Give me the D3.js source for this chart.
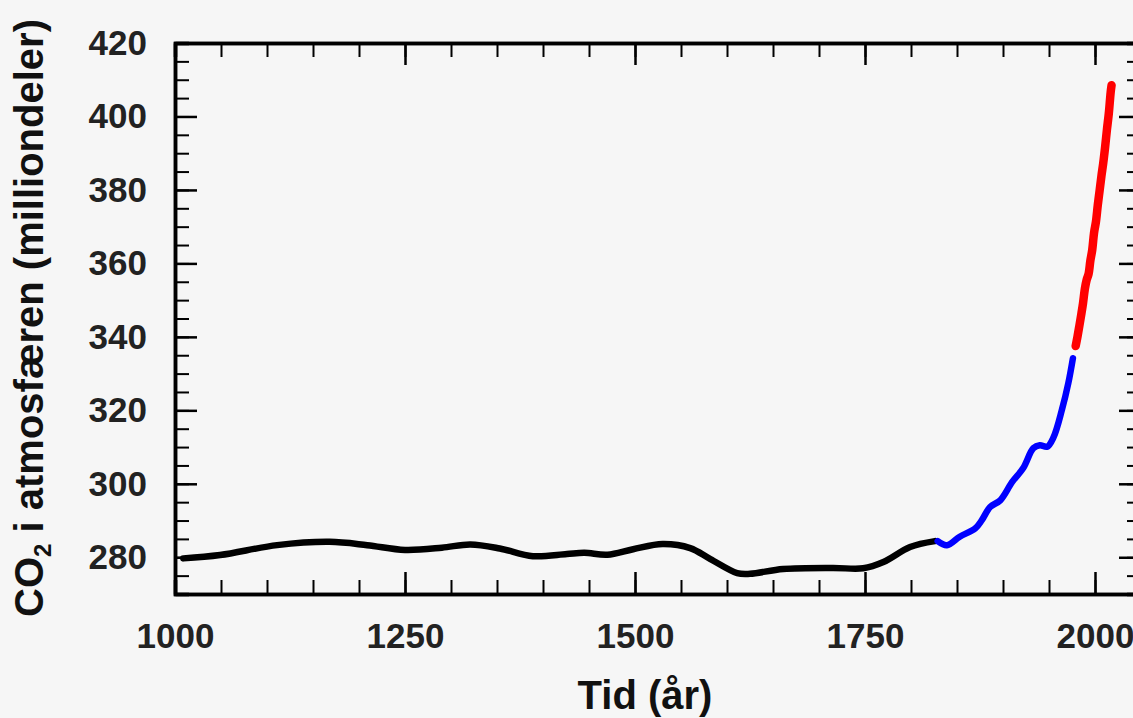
<!DOCTYPE html>
<html>
<head>
<meta charset="utf-8">
<script src="https://cdn.jsdelivr.net/npm/d3@7"></script>
<style>
  html, body { margin: 0; padding: 0; background: #f6f6f6; }
  svg { display: block; font-family: "Liberation Sans", Arial, sans-serif; }
  .tick text { font-size: 35px; font-weight: bold; fill: #222; }
  .domain { stroke: #000; stroke-width: 3.5px; }
  .tick line { stroke: #000; stroke-width: 2px; }
  .major .tick line { stroke-width: 2.5px; }
</style>
</head>
<body>
<svg id="chart" width="1133" height="718"></svg>
<script>
// ice core (black), firn/early record (blue), direct measurements (red)
const iceYears = [1009, 1049, 1111, 1168, 1209, 1250, 1290, 1321, 1353, 1389, 1426, 1445, 1470, 1498, 1530, 1560, 1582, 1611, 1625, 1661, 1715, 1748, 1770, 1799, 1826]
const icePpm   = [279.7, 280.6, 283.3, 284.2, 283.3, 282.0, 282.6, 283.5, 282.4, 280.3, 280.9, 281.2, 280.7, 282.2, 283.6, 282.5, 279.5, 275.7, 275.5, 276.8, 277.1, 277.0, 278.7, 282.8, 284.4]

const firnYears = [1829, 1839, 1853, 1870, 1877, 1886, 1897, 1910, 1922, 1933, 1940, 1948, 1955, 1964, 1971, 1976]
const firnPpm   = [284.4, 283.3, 285.6, 287.9, 290.1, 293.7, 295.5, 300.5, 304.3, 309.7, 310.5, 310.1, 312.7, 320.1, 327.4, 334.2]

const measYears = [1979, 1981, 1983, 1985, 1987, 1989, 1991, 1993, 1995, 1997, 1999, 2001, 2003, 2005, 2007, 2009, 2011, 2013, 2015, 2017, 2018]
const measPpm   = [337.5, 340.1, 343.0, 346.0, 349.2, 353.1, 355.6, 357.1, 360.8, 363.7, 368.4, 371.3, 375.8, 379.8, 383.8, 387.4, 391.7, 396.5, 400.8, 406.5, 408.5]

const xMajor = [1000, 1250, 1500, 1750, 2000]
const yMajor = [280, 300, 320, 340, 360, 380, 400, 420]

const svg = d3.select("#chart")
const pLeft = 175, pRight = 1141, pTop = 43, pBottom = 594

const x = d3.scaleLinear().domain([1000, 2050]).range([pLeft, pRight])
const y = d3.scaleLinear().domain([270, 420]).range([pBottom, pTop])

const xMinor = d3.range(1000, 2051, 50)
const yMinor = d3.range(270, 421, 5)

// minor ticks on all four sides
svg.append("g").attr("transform", `translate(0,${pBottom})`)
    .call(d3.axisBottom(x).tickValues(xMinor).tickSize(-14).tickFormat(""))
svg.append("g").attr("transform", `translate(0,${pTop})`)
    .call(d3.axisTop(x).tickValues(xMinor).tickSize(-14).tickFormat(""))
svg.append("g").attr("transform", `translate(${pLeft},0)`)
    .call(d3.axisLeft(y).tickValues(yMinor).tickSize(-14).tickFormat(""))
svg.append("g").attr("transform", `translate(${pRight},0)`)
    .call(d3.axisRight(y).tickValues(yMinor).tickSize(-14).tickFormat(""))

// major ticks + labels
svg.append("g").attr("class", "major").attr("transform", `translate(0,${pBottom})`)
    .call(d3.axisBottom(x).tickValues(xMajor).tickSize(-22).tickSizeOuter(0).tickPadding(29).tickFormat(d3.format("d")))
svg.append("g").attr("class", "major").attr("transform", `translate(0,${pTop})`)
    .call(d3.axisTop(x).tickValues(xMajor).tickSize(-22).tickSizeOuter(0).tickFormat(""))
svg.append("g").attr("class", "major").attr("transform", `translate(${pLeft},0)`)
    .call(d3.axisLeft(y).tickValues(yMajor).tickSize(-22).tickSizeOuter(0).tickPadding(28).tickFormat(d3.format("d")))
svg.append("g").attr("class", "major").attr("transform", `translate(${pRight},0)`)
    .call(d3.axisRight(y).tickValues(yMajor).tickSize(-22).tickSizeOuter(0).tickFormat(""))

svg.selectAll("g").attr("font-family", null).attr("font-size", null)

const line = d3.line()
    .x(d => x(d[0]))
    .y(d => y(d[1]))
    .curve(d3.curveCatmullRom)

const series = [
    {years: iceYears, ppm: icePpm, color: "#000000", w: 6.5},
    {years: firnYears, ppm: firnPpm, color: "#0000ff", w: 6.5},
    {years: measYears, ppm: measPpm, color: "#ff0000", w: 8.5}
]

series.forEach(s => {
    svg.append("path")
        .datum(s.years.map((yr, i) => [yr, s.ppm[i]]))
        .attr("d", line)
        .attr("fill", "none")
        .attr("stroke", s.color)
        .attr("stroke-width", s.w)
        .attr("stroke-linecap", "round")
        .attr("stroke-linejoin", "round")
})

// axis titles
svg.append("text")
    .attr("x", 645).attr("y", 709)
    .attr("text-anchor", "middle")
    .attr("font-size", 40).attr("font-weight", "bold").attr("fill", "#111")
    .text("Tid (år)")

const yTitle = svg.append("text")
    .attr("transform", "translate(43,318) rotate(-90)")
    .attr("text-anchor", "middle")
    .attr("font-size", 40).attr("font-weight", "bold").attr("fill", "#111")
yTitle.append("tspan").text("CO")
yTitle.append("tspan").attr("font-size", 24).attr("dy", 8).text("2")
yTitle.append("tspan").attr("dy", -8).text(" i atmosfæren (milliondeler)")
</script>
</body>
</html>
